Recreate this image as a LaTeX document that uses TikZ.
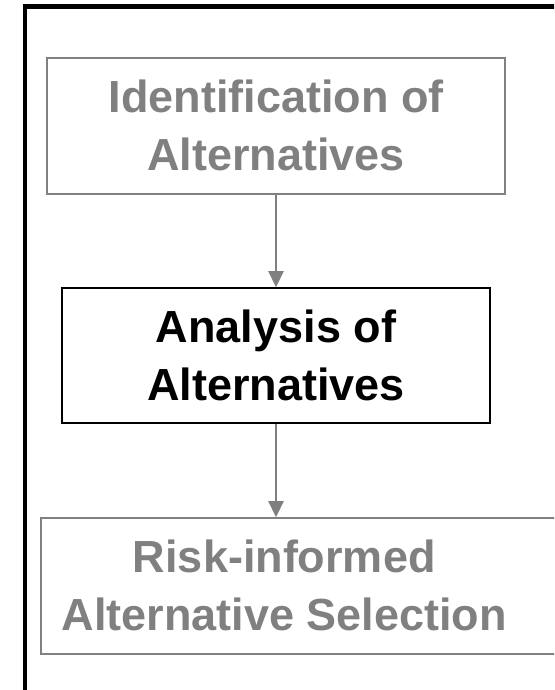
\documentclass[tikz,border=0pt]{standalone}
\usepackage{fontspec}
\setmainfont{Liberation Sans}
\usetikzlibrary{arrows.meta}
\definecolor{stepgray}{HTML}{808080}
\begin{document}
\begin{tikzpicture}[x=1pt, y=1pt,
    stepbox/.style={draw, line width=1.5pt, align=center, inner sep=0pt,
        font=\fontsize{45}{58}\selectfont\bfseries,
        text height=90pt, text depth=0pt, minimum height=136pt},
    flow/.style={-{Triangle[width=15pt,length=16pt]}, line width=2.3pt, stepgray}]
    \useasboundingbox (0,0) rectangle (554,690);
    \clip (0,0) rectangle (554,690);

    % Outer frame (only its left and top edges show)
    \draw[line width=4.5pt] (25,-20) |- (620,683.5);

    % Process steps
    \node[stepbox, draw=stepgray, text=stepgray, minimum width=458pt] (ident) at (276,564) {Identification of\\Alternatives};
    \node[stepbox, minimum width=428pt, minimum height=135pt] (analysis) at (276,334.5) {Analysis of\\Alternatives};
    \node[stepbox, draw=stepgray, text=stepgray, anchor=west, minimum width=570pt] (select) at (40,104) {Risk-informed\hspace*{83pt}\\Alternative Selection\hspace*{83pt}};

    % Connectors
    \draw[flow] (ident) -- (analysis);
    \draw[flow] (analysis) -- (analysis.south |- select.north);
\end{tikzpicture}
\end{document}
